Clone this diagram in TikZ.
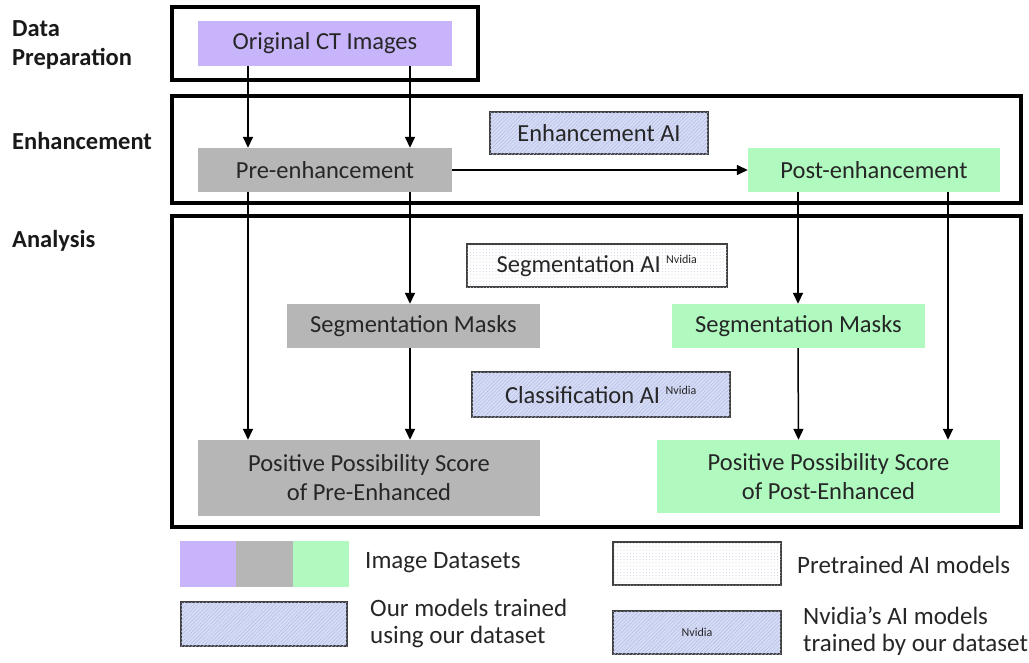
\documentclass[tikz,border=0pt]{standalone}
\usepackage{fontspec}
\setmainfont{Carlito}
\usetikzlibrary{arrows.meta,patterns.meta,positioning}

\definecolor{lav}{RGB}{200,180,250}
\definecolor{grayset}{RGB}{182,182,182}
\definecolor{greenset}{RGB}{176,250,192}
\definecolor{aiblue}{RGB}{214,220,246}
\definecolor{hatch}{RGB}{178,188,226}
\definecolor{dotc}{RGB}{200,204,220}
\definecolor{txt}{RGB}{38,38,38}

\tikzset{
  dataset/.style={draw=none, inner sep=0pt, text=txt, align=center,
    font=\fontsize{24.5}{29}\selectfont},
  trained/.style={draw=black!75, line width=1.6pt, fill=aiblue,
    postaction={pattern={Lines[angle=45,distance=2.6pt,line width=0.45pt]}, pattern color=hatch},
    inner sep=0pt, text=txt, font=\fontsize{24.5}{29}\selectfont},
  pretrained/.style={draw=black!75, line width=1.6pt, fill=white,
    postaction={pattern={Dots[distance=3.2pt,radius=0.5pt]}, pattern color=dotc},
    inner sep=0pt, text=txt, font=\fontsize{24.5}{29}\selectfont},
  stage/.style={draw=black, line width=3.4pt},
  stagelabel/.style={anchor=west, align=left, inner sep=0pt, text=black!90,
    font=\fontsize{24.5}{29}\selectfont\bfseries},
  legendtext/.style={anchor=west, align=left, inner sep=0pt, text=txt,
    font=\fontsize{25}{27}\selectfont},
  arr/.style={line width=1.5pt, -{Triangle[length=11pt,width=10pt]}},
}
\newcommand{\nv}{\textsuperscript{\fontsize{12}{12}\selectfont Nvidia}}

\begin{document}
\begin{tikzpicture}[x=1pt,y=-1pt]
\useasboundingbox (0,0) rectangle (1029,662);

% stage frames
\draw[stage] (172,7) rectangle (478,80);
\draw[stage] (172,96) rectangle (1021,203);
\draw[stage] (172,216) rectangle (1021,527);

% stage labels
\node[stagelabel] (lblprep) at (12,44.5) {Data\\Preparation};
\node[stagelabel] (lblenh) at (12,141) {Enhancement};
\node[stagelabel] (lblana) at (12,241) {Analysis};

% image datasets
\node[dataset, fill=lav, minimum width=254, minimum height=45] (orig) at (325,43.5) {Original CT Images};
\node[dataset, fill=grayset, minimum width=254, minimum height=44] (pre) at (325,170) {Pre-enhancement};
\node[dataset, fill=greenset, minimum width=252, minimum height=44] (post) at (874,170) {Post-enhancement};
\node[dataset, fill=grayset, minimum width=253, minimum height=44] (segL) at (413.5,326) {Segmentation Masks};
\node[dataset, fill=greenset, minimum width=253, minimum height=44] (segR) at (798.5,326) {Segmentation Masks};
\node[dataset, fill=grayset, minimum width=342, minimum height=76] (scoreL) at (369,478) {Positive Possibility Score\\of Pre-Enhanced};
\node[dataset, fill=greenset, minimum width=343, minimum height=73] (scoreR) at (828.5,476.5) {Positive Possibility Score\\of Post-Enhanced};

% AI models
\node[trained, minimum width=218, minimum height=42] (enhAI) at (599,133) {Enhancement AI};
\node[pretrained, minimum width=260, minimum height=43] (segAI) at (597,265.5) {Segmentation AI \nv};
\node[trained, minimum width=258, minimum height=45] (clsAI) at (601,394.5) {Classification AI \nv};

% connectors
\draw[arr] ([xshift=-77]orig.south) -- ([xshift=-77]pre.north);
\draw[arr] ([xshift=85]orig.south) -- ([xshift=85]pre.north);
\draw[arr] (pre.east) -- (post.west);
\draw[arr] ([xshift=-77]pre.south) -- ([xshift=-121]scoreL.north);
\draw[arr] ([xshift=85]pre.south) -- ([xshift=-3.5]segL.north);
\draw[arr] ([xshift=-3.5]segL.south) -- ([xshift=41]scoreL.north);
\draw[arr] ([xshift=-76]post.south) -- ([xshift=-0.5]segR.north);
\draw[arr] ([xshift=74]post.south) -- ([xshift=119.5]scoreR.north);
\draw[arr] ([xshift=-0.5]segR.south) -- ([xshift=-30]scoreR.north);

% legend: colour strip for the three image sets
\node[dataset, fill=lav, minimum width=57, minimum height=46] (lg1) at (208.5,564) {};
\node[dataset, fill=grayset, minimum width=57, minimum height=46, right=-1pt of lg1] (lg2) {};
\node[dataset, fill=greenset, minimum width=56, minimum height=46, right=-1pt of lg2] (lg3) {};
\node[legendtext] (lgt1) at (365,563) {Image Datasets};

\node[trained, minimum width=166, minimum height=44] (lgtrained) at (264,624) {};
\node[legendtext] (lgt2) at (370,623) {Our models trained\\using our dataset};

\node[pretrained, minimum width=168, minimum height=43] (lgpre) at (697,563.5) {};
\node[legendtext] (lgt3) at (797,565) {Pretrained AI models};

\node[trained, minimum width=168, minimum height=43, font=\fontsize{12}{12}\selectfont] (lgnv) at (697,632.5) {Nvidia};
\node[legendtext] (lgt4) at (803,631) {Nvidia’s AI models\\trained by our dataset};
\end{tikzpicture}
\end{document}
